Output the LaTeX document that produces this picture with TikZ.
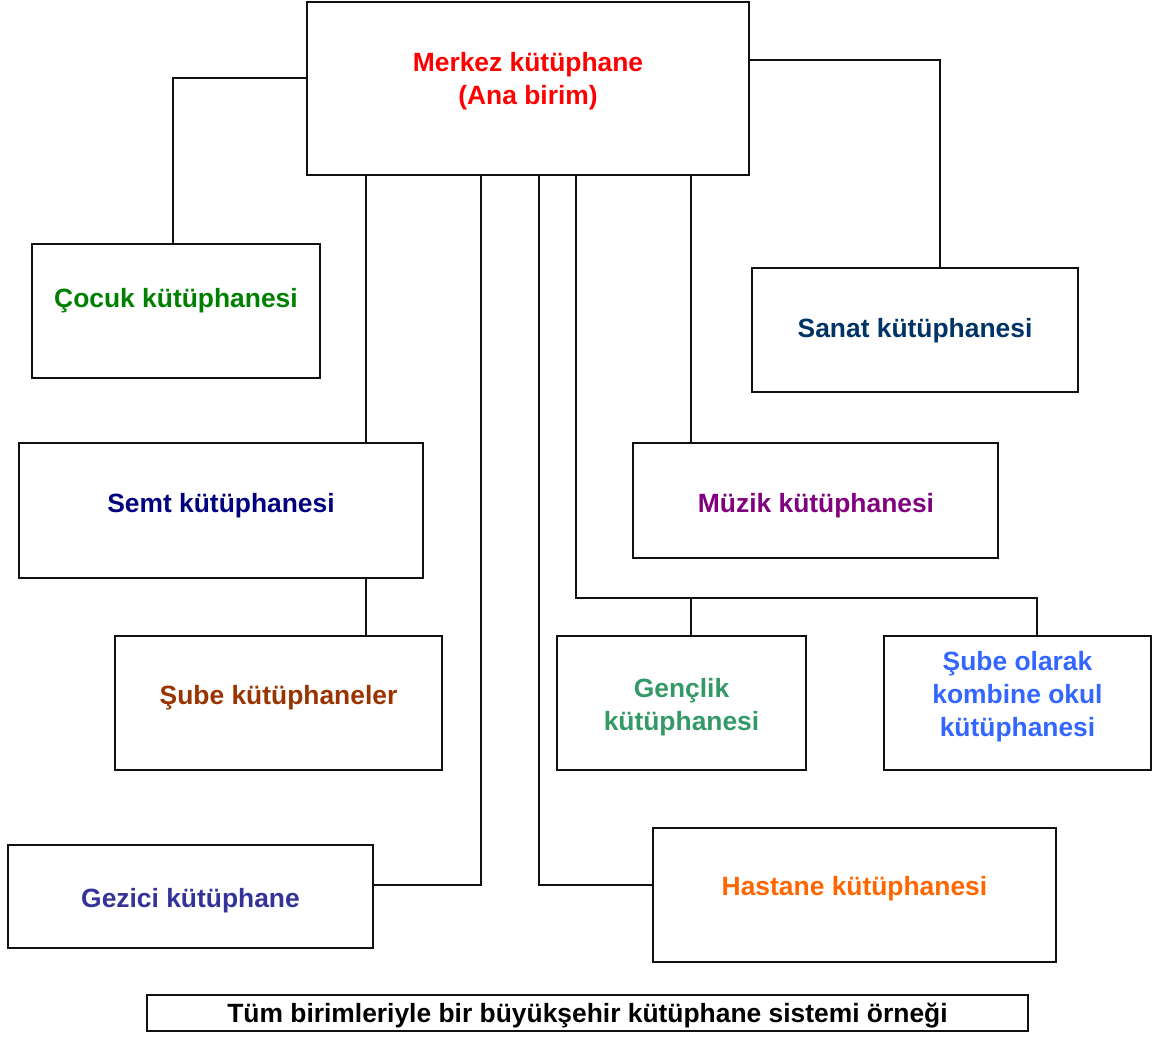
\documentclass[tikz,border=0pt]{standalone}
\usepackage{fontspec}
\setmainfont{Liberation Sans}
\definecolor{cMerkez}{HTML}{FF0000}
\definecolor{cCocuk}{HTML}{008000}
\definecolor{cSanat}{HTML}{003366}
\definecolor{cSemt}{HTML}{000080}
\definecolor{cMuzik}{HTML}{800080}
\definecolor{cSube}{HTML}{993300}
\definecolor{cGenc}{HTML}{339966}
\definecolor{cOkul}{HTML}{3366FF}
\definecolor{cGezici}{HTML}{333399}
\definecolor{cHastane}{HTML}{FF6600}
\definecolor{cLine}{HTML}{111111}
\tikzset{
  x=1pt, y=-1pt,
  unitbox/.style={draw=cLine, line width=2.4pt, rectangle, inner sep=0pt, outer sep=0pt},
  label text/.style={font=\fontsize{26.4}{33}\selectfont\bfseries, inner sep=0pt, anchor=base, align=center},
  link/.style={draw=cLine, line width=2pt}
}
\begin{document}
\begin{tikzpicture}
\useasboundingbox (0,0) rectangle (1153,1036);

% unit boxes
\node[unitbox, minimum width=442pt, minimum height=173pt] (merkez) at (528,88.5) {};
\node[unitbox, minimum width=288pt, minimum height=134pt] (cocuk) at (176,311) {};
\node[unitbox, minimum width=326pt, minimum height=124pt] (sanat) at (915,330) {};
\node[unitbox, minimum width=404pt, minimum height=135pt] (semt) at (221,510.5) {};
\node[unitbox, minimum width=365pt, minimum height=115pt] (muzik) at (815.5,500.5) {};
\node[unitbox, minimum width=327pt, minimum height=134pt] (sube) at (278.5,703) {};
\node[unitbox, minimum width=249pt, minimum height=134pt] (genclik) at (681.5,703) {};
\node[unitbox, minimum width=267pt, minimum height=134pt] (okul) at (1017.5,703) {};
\node[unitbox, minimum width=365pt, minimum height=103pt] (gezici) at (190.5,896.5) {};
\node[unitbox, minimum width=403pt, minimum height=134pt] (hastane) at (854.5,895) {};
\node[unitbox, minimum width=881pt, minimum height=36pt] (caption) at (587.5,1013) {};

% labels (the base anchor of a multi-line label sits on its last line)
\node[label text, text=cMerkez] (tMerkez) at (528,104) {Merkez kütüphane\\(Ana birim)};
\node[label text, text=cCocuk] (tCocuk) at (176,307) {Çocuk kütüphanesi};
\node[label text, text=cSanat] (tSanat) at (915,337) {Sanat kütüphanesi};
\node[label text, text=cSemt] (tSemt) at (221,512) {Semt kütüphanesi};
\node[label text, text=cMuzik] (tMuzik) at (816,512) {Müzik kütüphanesi};
\node[label text, text=cSube] (tSube) at (278.5,704) {Şube kütüphaneler};
\node[label text, text=cGenc] (tGenc) at (681.5,730) {Gençlik\\kütüphanesi};
\node[label text, text=cOkul] (tOkul) at (1017.5,736) {Şube olarak\\kombine okul\\kütüphanesi};
\node[label text, text=cGezici] (tGezici) at (190.5,907) {Gezici kütüphane};
\node[label text, text=cHastane] (tHastane) at (854.5,895) {Hastane kütüphanesi};
\node[label text, text=black] (tCaption) at (587.5,1022) {Tüm birimleriyle bir büyükşehir kütüphane sistemi örneği};

% routing points of the connectors
\coordinate (jL) at (173,78);
\coordinate (jR) at (940,60);
\coordinate (jSemt) at (366,0);
\coordinate (jGez) at (481,885);
\coordinate (jHas) at (539,885);
\coordinate (jBus) at (576,598);
\coordinate (jGenc) at (691,598);
\coordinate (jOkul) at (1037,598);

% connectors
\draw[link] (jL -| merkez.west) -| (cocuk.north -| jL);
\draw[link] (jR -| merkez.east) -| (sanat.north -| jR);
\draw[link] (merkez.south -| jSemt) -- (semt.north -| jSemt);
\draw[link] (semt.south -| jSemt) -- (sube.north -| jSemt);
\draw[link] (merkez.south -| jGez) |- (gezici.east |- jGez);
\draw[link] (merkez.south -| jHas) |- (hastane.west |- jHas);
\draw[link] (merkez.south -| jBus) |- (jOkul) -- (okul.north -| jOkul);
\draw[link] (jGenc) -- (genclik.north -| jGenc);
\draw[link] (merkez.south -| jGenc) -- (muzik.north -| jGenc);
\end{tikzpicture}
\end{document}
